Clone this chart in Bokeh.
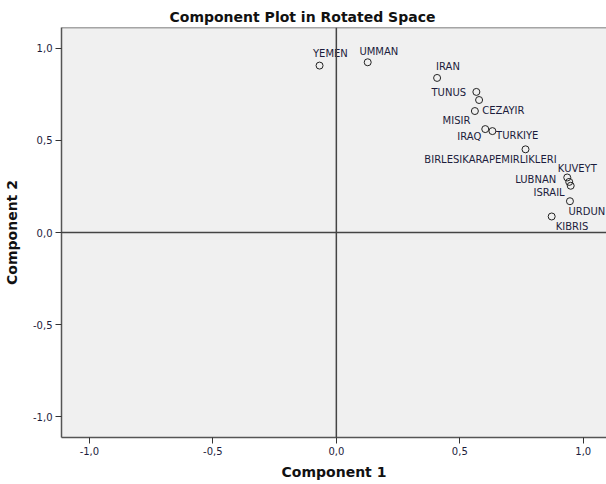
from bokeh.plotting import figure
from bokeh.models import ColumnDataSource, FixedTicker, CustomJSTickFormatter, Span, Range1d
from bokeh.core.properties import value
from bokeh.embed import file_html
from bokeh.resources import INLINE

countries = ["YEMEN", "UMMAN", "IRAN", "TUNUS", "MISIR", "CEZAYIR", "IRAQ", "TURKIYE",
             "BIRLESIKARAPEMIRLIKLERI", "KUVEYT", "LUBNAN", "ISRAIL", "URDUN", "KIBRIS"]
component1 = [-0.068, 0.127, 0.408, 0.567, 0.578, 0.561, 0.603, 0.632,
              0.766, 0.935, 0.943, 0.949, 0.946, 0.872]
component2 = [0.907, 0.925, 0.840, 0.764, 0.720, 0.660, 0.562, 0.551,
              0.452, 0.299, 0.275, 0.254, 0.170, 0.087]
tick_values = [-1.0, -0.5, 0.0, 0.5, 1.0]

# label placement (screen pixels, styling only)
label_dx = [-6.6, -8.3, -1, -10.3, -8.7, 7.4, -4, 3.7, -35, -9.4, -13, -6, -1.5, 4]
label_dy = [-11.7, -11, -11.5, 0.5, 20.5, -0.8, 7, 4, 10, -8.8, -2.4, 7, 9.8, 10.2]
label_align = ["left", "left", "left", "right", "right", "left", "right", "left",
               "center", "left", "right", "right", "left", "left"]

src = ColumnDataSource(dict(x=component1, y=component2, name=countries,
                            dx=label_dx, dy=label_dy, align=label_align))

Y0, Y1 = -1.114, 1.114
p = figure(width=606, height=484, output_backend="svg", toolbar_location=None,
           x_range=Range1d(-1.113, 1.094), y_range=Range1d(Y0, Y1),
           min_border_left=61, min_border_right=0, min_border_top=27, min_border_bottom=47)

p.title.text = "Component Plot in Rotated Space"
p.title.text_font = "DejaVu Sans"
p.title.text_font_size = "14px"
p.title.text_font_style = "bold"
p.title.text_color = "#111111"
p.title.align = "left"
p.title.offset = 108
p.title.standoff = 5

p.background_fill_color = "#F0F0F0"
p.border_fill_color = "white"
p.outline_line_color = None
p.xgrid.visible = False
p.ygrid.visible = False

for ax in (p.xaxis[0], p.yaxis[0]):
    ax.ticker = FixedTicker(ticks=tick_values)
    ax.formatter = CustomJSTickFormatter(code="return tick.toFixed(1).replace('.', ',');")
    ax.axis_line_color = "#555555"
    ax.axis_line_width = 1.5
    ax.major_tick_line_color = "#333333"
    ax.major_tick_out = 6
    ax.major_tick_in = 0
    ax.minor_tick_line_color = None
    ax.major_label_text_font = "DejaVu Sans"
    ax.major_label_text_font_size = "10px"
    ax.major_label_text_color = "#1c1c3c"
    ax.major_label_standoff = 3
    ax.axis_label_text_font = "DejaVu Sans"
    ax.axis_label_text_font_size = "14px"
    ax.axis_label_text_font_style = "bold"
    ax.axis_label_text_color = "#111111"

p.xaxis.axis_label = "Component 1"
p.yaxis.axis_label = "Component 2"
p.xaxis.axis_label_standoff = 6
p.yaxis.axis_label_standoff = 10

# top frame edge
p.add_layout(Span(location=Y1, dimension="width", line_color="#555555", line_width=1.5))
# zero lines
p.add_layout(Span(location=0, dimension="height", line_color="#444444", line_width=1.5))
p.add_layout(Span(location=0, dimension="width", line_color="#444444", line_width=1.5))

p.scatter("x", "y", source=src, size=7, fill_color=None, line_color="#222222", line_width=1)
p.text("x", "y", text="name", source=src, x_offset="dx", y_offset="dy",
       text_align="align", text_baseline="middle",
       text_font=value("DejaVu Sans"), text_font_size="10px", text_color="#1c1c3c")

open("out.html", "w").write(file_html(p, INLINE))
